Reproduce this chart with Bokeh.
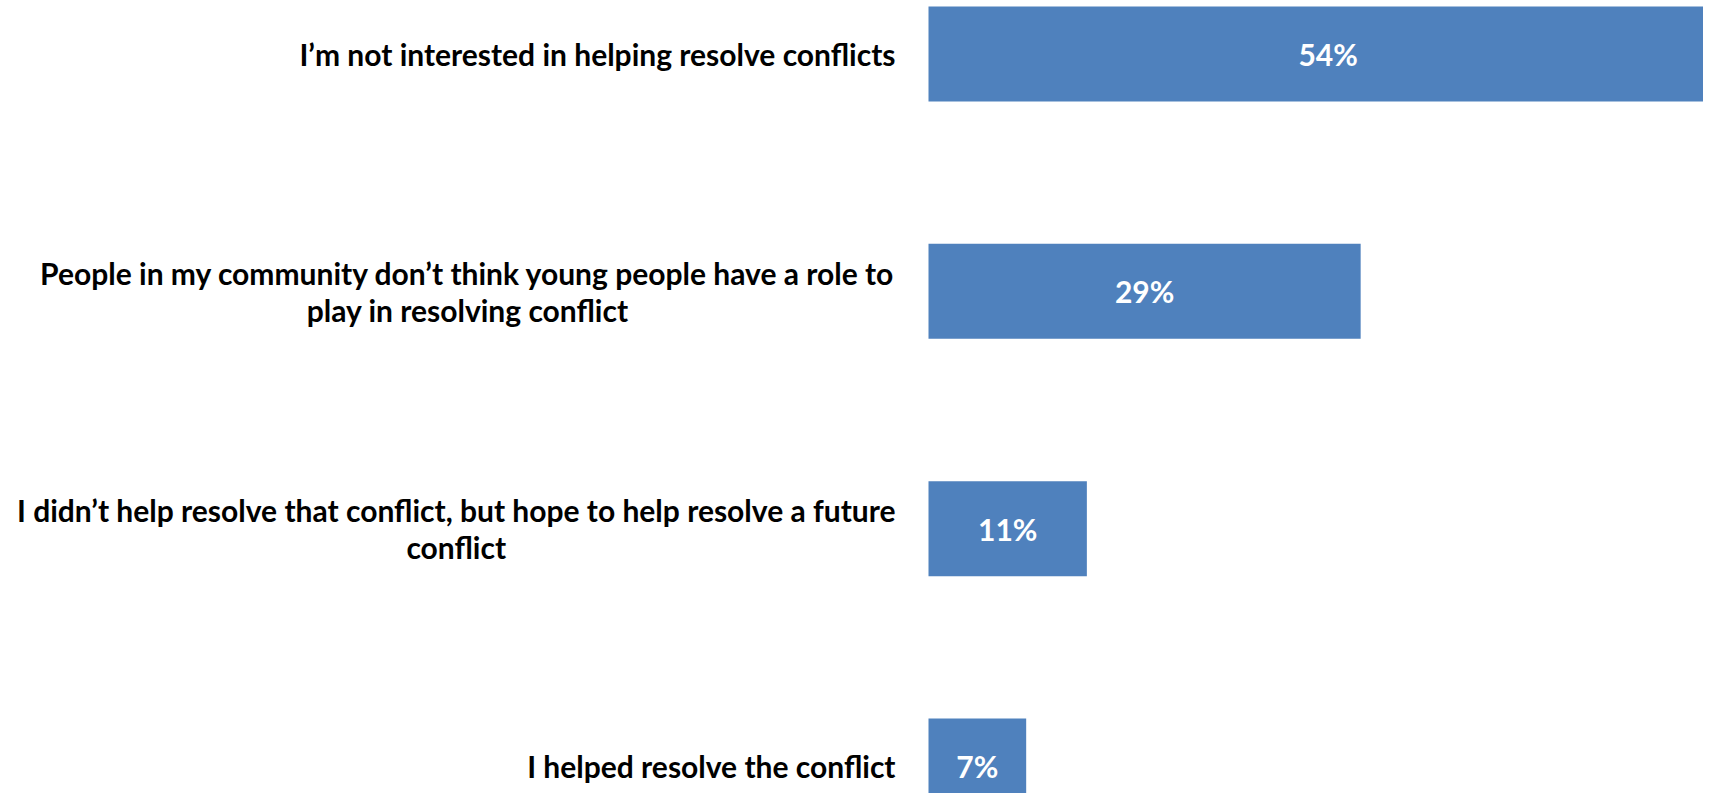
from bokeh.plotting import figure
from bokeh.models import Range1d, ColumnDataSource
from bokeh.core.properties import value
from bokeh.embed import file_html
from bokeh.resources import INLINE

categories = [
    "I\u2019m not interested in helping resolve conflicts",
    "People in my community don\u2019t think young people have a role to\nplay in resolving conflict",
    "I didn\u2019t help resolve that conflict, but hope to help resolve a future\nconflict",
    "I helped resolve the conflict",
]
values = [54, 29.2, 10.7, 6.6]
value_labels = ["54%", "29%", "11%", "7%"]

W, H = 1703, 793
PX_PER_UNIT = 14.8
ZERO_PX = 928
BAND = 237.33
FIRST_CENTER = 53.5

n = len(categories)
ypos = [n - 1 - i for i in range(n)]

x_start = -ZERO_PX / PX_PER_UNIT
x_end = (W - ZERO_PX) / PX_PER_UNIT
y_top = (n - 1) + FIRST_CENTER / BAND
y_bottom = y_top - H / BAND

p = figure(width=W, height=H, output_backend="svg", toolbar_location=None,
           x_range=Range1d(x_start, x_end), y_range=Range1d(y_bottom, y_top),
           min_border=0, outline_line_color=None)
p.axis.visible = False
p.grid.visible = False
p.background_fill_color = "white"
p.border_fill_color = "white"

src = ColumnDataSource(dict(
    y=ypos, v=values, half=[v / 2 for v in values],
    lab=value_labels, cat=categories,
    lx=[-33 / PX_PER_UNIT] * n,
))

p.hbar(y="y", left=0, right="v", height=0.4, source=src,
       fill_color="#4F81BD", line_color=None)

p.text(x="half", y="y", text="lab", source=src, text_color="white",
       text_font=value("Lato"), text_font_style="bold", text_font_size="30px",
       text_align="center", text_baseline="middle")

p.text(x="lx", y="y", text="cat", source=src, text_color="black",
       text_font=value("Lato"), text_font_style="bold", text_font_size="30px",
       text_align="center", anchor="center_right", text_line_height=1.02)

open("out.html", "w").write(file_html(p, INLINE))
